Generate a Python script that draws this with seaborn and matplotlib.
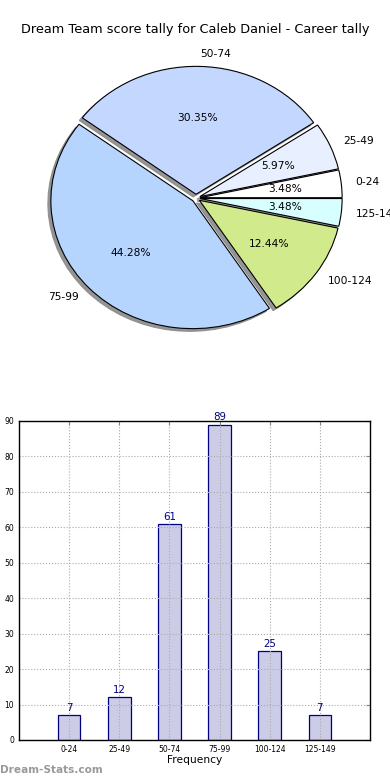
import matplotlib
matplotlib.use("Agg")
import matplotlib.pyplot as plt
import seaborn as sns

sns.set_style("white")
plt.rcParams['font.family'] = ['DejaVu Sans']
plt.rcParams['text.color'] = 'black'
plt.rcParams['axes.labelcolor'] = 'black'
plt.rcParams['xtick.color'] = 'black'
plt.rcParams['ytick.color'] = 'black'

# data
bins = ["0-24", "25-49", "50-74", "75-99", "100-124", "125-149"]
counts = [7, 12, 61, 89, 25, 7]
pie_colors = ["#ffffff", "#e8f0ff", "#c4d8ff", "#b5d5ff", "#d0ea8c", "#d8ffff"]
explode = [0.03] * 6
y_ticks = list(range(0, 100, 10))

title = "Dream Team score tally for Caleb Daniel - Career tally"

fig = plt.figure(figsize=(3.9, 7.8), dpi=100)

# pie (old style, not forced to a circle)
ax1 = fig.add_axes([0.0474, 0.541, 0.910, 0.410])
wedges, texts, autotexts = ax1.pie(
    counts, labels=bins, colors=pie_colors, explode=explode,
    autopct="%1.2f%%", startangle=0,
    shadow={"ox": -0.015, "oy": -0.015, "color": "#8a8a8a", "alpha": 0.9},
    wedgeprops=dict(edgecolor="black", linewidth=0.8),
    textprops=dict(fontsize=7.7),
)
ax1.set_aspect("auto")
ax1.set_xlim(-1.25, 1.25)
ax1.set_ylim(-1.25, 1.25)
fig.text(0.5, 1 - 30 / 780, title, ha="center", va="center", fontsize=9.3)

# bars
ax2 = fig.add_axes([0.0487, 0.0513, 0.900, 0.409])
sns.barplot(x=bins, y=counts, color="#ccccE6", saturation=1, width=0.45,
            edgecolor="navy", linewidth=0.9, ax=ax2)
ax2.bar_label(ax2.containers[0], color="navy", fontsize=7.4, padding=1.5)
ax2.set_xlim(-1, 6)
ax2.set_ylim(0, 90)
ax2.set_yticks(y_ticks)
ax2.grid(True, linestyle=":", color="#aaaaaa", linewidth=0.8)
ax2.set_axisbelow(False)
for b in ax2.patches:
    b.set_zorder(1)
ax2.tick_params(axis="both", direction="in", top=True, right=True,
                labelsize=5.5, length=3, color="#888888")
ax2.set_xlabel("Frequency", fontsize=7.7, labelpad=1)
ax2.set_ylabel("")
for s in ax2.spines.values():
    s.set_color("black")
    s.set_linewidth(1)
    s.set_zorder(5)

fig.text(0.0, 1 - 770 / 780, "Dream-Stats.com", ha="left", va="center",
         fontsize=7.6, color="#999999", fontweight="bold")

fig.savefig("out.png", dpi=100)
